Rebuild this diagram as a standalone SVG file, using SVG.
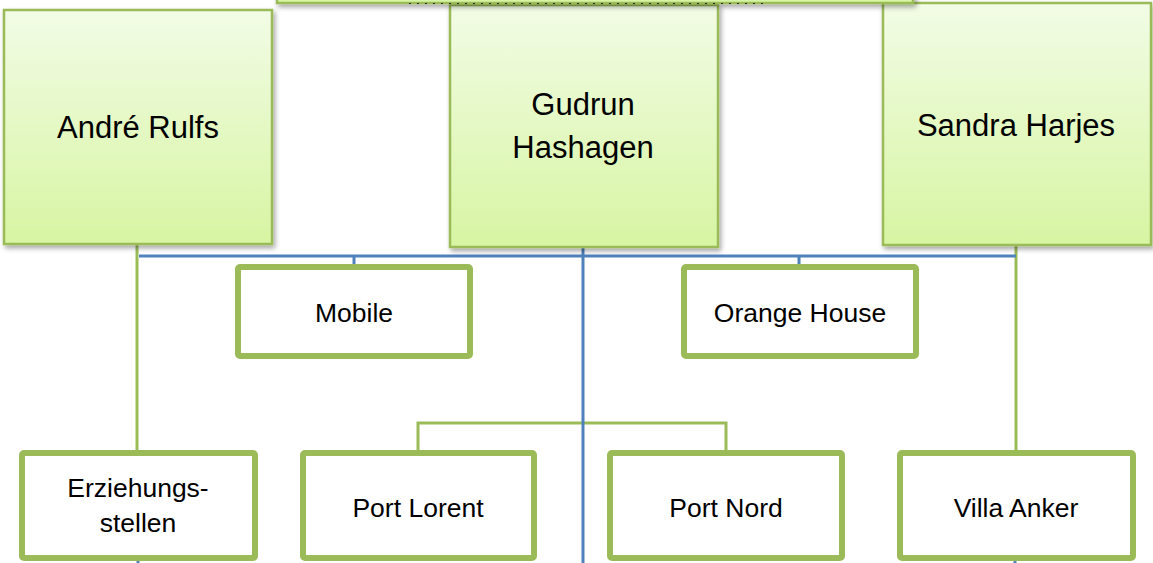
<svg xmlns="http://www.w3.org/2000/svg" width="1153" height="563" viewBox="0 0 1153 563">
<defs>
<linearGradient id="gGreen" x1="0" y1="0" x2="0" y2="1">
<stop offset="0" stop-color="#f2fce6"/>
<stop offset="1" stop-color="#d7f5a2"/>
</linearGradient>
<filter id="shadow" x="-10%" y="-10%" width="125%" height="130%">
<feDropShadow dx="2" dy="3" stdDeviation="2.5" flood-color="#000" flood-opacity="0.35"/>
</filter>
</defs>
<style>
.top{fill:url(#gGreen);stroke:#9bbb59;stroke-width:2.5;filter:url(#shadow)}
.unit{fill:#fff;stroke:#9bbb59;stroke-width:6}
.big{font-family:"Liberation Sans",Arial,sans-serif;font-size:31px;fill:#000;text-anchor:middle}
.sm{font-family:"Liberation Sans",Arial,sans-serif;font-size:26.5px;fill:#000;text-anchor:middle}
.blue{stroke:#4f81bd;stroke-width:3;fill:none}
.green{stroke:#9bbb59;stroke-width:3;fill:none}
</style>
<rect width="1153" height="563" fill="#fff"/>

<g id="connectors">
<path class="green" d="M137 244V450"/>
<path class="green" d="M1016 245V450"/>
<path class="green" d="M418 450V423H726V450"/>
<path class="blue" d="M139 256H1016"/>
<path class="blue" d="M354 256V266"/>
<path class="blue" d="M799 256V266"/>
<path class="blue" d="M583 247V563"/>
<path class="blue" d="M138 559V563"/>
<path class="blue" d="M1015 559V563"/>
</g>

<g id="andre">
<rect class="top" x="4" y="10" width="268" height="234"/>
<text class="big" x="138" y="138">André Rulfs</text>
</g>
<g id="gudrun">
<rect class="top" x="450" y="5" width="268" height="242"/>
<text class="big" x="583" y="115">Gudrun</text>
<text class="big" x="583" y="158">Hashagen</text>
</g>
<g id="sandra">
<rect class="top" x="883" y="3" width="268" height="242"/>
<text class="big" x="1016" y="136">Sandra Harjes</text>
</g>
<g id="root">
<rect class="top" x="277" y="-60" width="636" height="63"/>
<path d="M409 3.5H767" stroke="#222" stroke-width="1.2" stroke-dasharray="2 6" fill="none"/>
</g>

<g id="mobile">
<rect class="unit" x="238" y="267" width="232" height="89" rx="2"/>
<text class="sm" x="354" y="322">Mobile</text>
</g>
<g id="orange">
<rect class="unit" x="684" y="267" width="232" height="89" rx="2"/>
<text class="sm" x="800" y="322">Orange House</text>
</g>
<g id="erziehung">
<rect class="unit" x="22" y="453" width="233" height="105" rx="2"/>
<text class="sm" x="138" y="497">Erziehungs-</text>
<text class="sm" x="138" y="532">stellen</text>
</g>
<g id="portlorent">
<rect class="unit" x="303" y="453" width="231" height="105" rx="2"/>
<text class="sm" x="418" y="517">Port Lorent</text>
</g>
<g id="portnord">
<rect class="unit" x="610" y="453" width="232" height="105" rx="2"/>
<text class="sm" x="726" y="517">Port Nord</text>
</g>
<g id="villa">
<rect class="unit" x="900" y="453" width="233" height="105" rx="2"/>
<text class="sm" x="1016" y="517">Villa Anker</text>
</g>
</svg>
